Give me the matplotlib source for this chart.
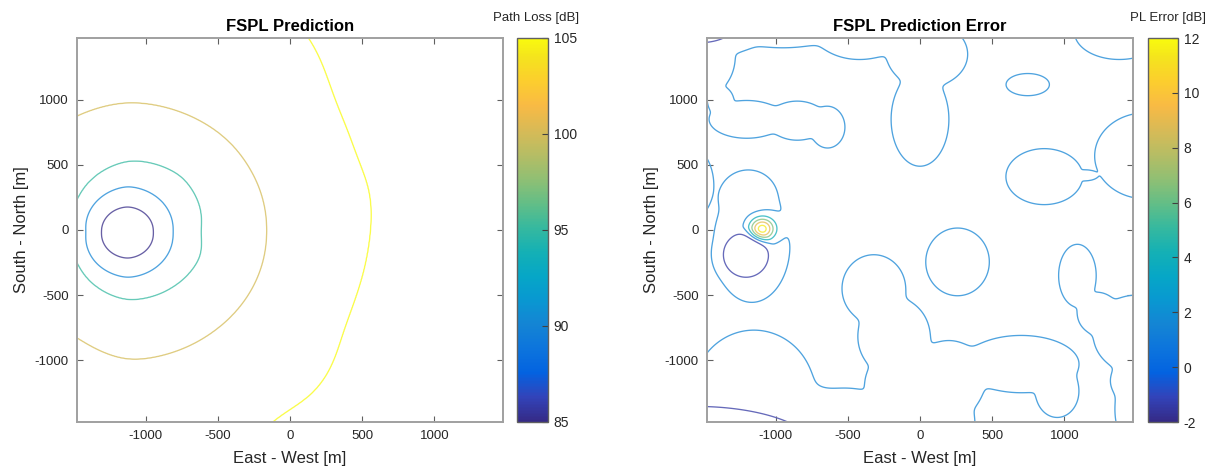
import numpy as np
import matplotlib
matplotlib.use("Agg")
import matplotlib.pyplot as plt
from matplotlib.colors import LinearSegmentedColormap, Normalize
from matplotlib.cm import ScalarMappable

plt.rcParams['font.family'] = ['Liberation Sans', 'DejaVu Sans']
plt.rcParams['axes.unicode_minus'] = False

# parula-like colormap (MATLAB default)
parula_rgb = [(0.2081, 0.1663, 0.5292), (0.1959, 0.2645, 0.7279), (0.0117, 0.3875, 0.8820),
              (0.0498, 0.4586, 0.8641), (0.0793, 0.5200, 0.8312), (0.0343, 0.5966, 0.8199),
              (0.0228, 0.6535, 0.7768), (0.0843, 0.6928, 0.7062), (0.2178, 0.7250, 0.6193),
              (0.3953, 0.7459, 0.5244), (0.5709, 0.7485, 0.4494), (0.7184, 0.7411, 0.3905),
              (0.8507, 0.7299, 0.3360), (0.9739, 0.7314, 0.2666), (0.9880, 0.8066, 0.1794),
              (0.9589, 0.8949, 0.1132), (0.9763, 0.9831, 0.0538)]
parula_pos = [0, 4, 8, 12, 16, 20, 24, 28, 32, 36, 40, 44, 48, 52, 56, 60, 63]
parula = LinearSegmentedColormap.from_list(
    "parula", [(p / 63, c) for p, c in zip(parula_pos, parula_rgb)])

# ---- FSPL prediction: contour radius (m) vs bearing (deg) around the Tx ----
tx_x, tx_y = -1125, -18
pl_levels = [85, 90, 95, 100, 105]
ang_85 = [0, 90, 180, 270]
rad_85 = [178, 195, 180, 198]
ang_90 = [0, 45, 90, 135, 180, 225, 270, 315]
rad_90 = [314, 335, 351, 318, 286, 318, 346, 330]
ang_95 = [0, 20, 49, 88, 144, 180, 214, 270, 306, 340]
rad_95 = [503, 535, 567, 549, 427, 420, 417, 517, 523, 535]
ang_100 = [0, 32, 46, 90, 113, 180, 245, 270, 310]
rad_100 = [962, 978, 990, 997, 955, 850, 870, 980, 965]
ang_105 = [-53, -46, -35, -28, -17, -3, 13, 18, 36, 50, 90, 180, 270]
rad_105 = [1725, 1803, 1747, 1665, 1651, 1670, 1717, 1672, 1747, 1962, 2300, 2600, 2100]

# ---- FSPL prediction error: low areas (x, y, half-widths of 1.5 dB line, depth) ----
err_base = 2.5
low_x = [-1200, -850, -640, -1380, -1500, -950, -420, 0, 50, -1540,
         -1700, -1165, -1190, -1205,
         -1150, -500, -1550, -320, -180, -230, 0, 200, 700, 950, 230, 260,
         1090, 1500, 1530, 1500, 1230, 860, 1560, 1150, 746, 1380]
low_y = [850, 840, 790, 990, 1330, 1600, 1560, 850, 1350, 1540,
         356, -110, 250, -190,
         -1250, -1550, -1700, -450, -820, -1180, -1350, -1150, -1030, -1240, -1500, -245,
         -350, -800, -1380, -1160, -640, 410, 570, 420, 1117, 1520]
low_rx = [260, 200, 120, 90, 220, 450, 330, 200, 280, 488,
          270, 265, 200, 235,
          420, 360, 1450, 220, 250, 150, 230, 250, 400, 150, 150, 220,
          130, 300, 180, 180, 140, 265, 350, 80, 150, 310]
low_ry = [145, 150, 160, 110, 300, 200, 250, 360, 250, 215,
          350, 445, 210, 260,
          480, 330, 597, 260, 300, 190, 230, 300, 220, 200, 250, 260,
          240, 300, 330, 170, 160, 215, 330, 40, 85, 210]
low_depth = [-2.5, -2.5, -2.5, -2.5, -2.5, -2.5, -2.5, -2.5, -2.5, -6,
             -2.5, -2.5, -2.5, -12,
             -2.5, -2.5, -8, -2.5, -2.5, -2.5, -2.5, -2.5, -2.5, -2.5, -2.5, -2.5,
             -2.5, -2.5, -2.5, -2.5, -2.5, -2.5, -2.5, -2.5, -2.5, -2.5]
peak_x, peak_y, peak_h, peak_s = -1094, 8, 12.3, 62
err_levels = [-1.5, 1.5, 4, 6.5, 9, 11.5]

lim = 1475
xs = np.linspace(-lim, lim, 500)
X, Y = np.meshgrid(xs, xs)

# path loss field, rings smoothed along the bearing
theta = np.degrees(np.arctan2(Y - tx_y, X - tx_x))
r = np.hypot(X - tx_x, Y - tx_y)
fine = np.arange(-180, 180, 1.0)
kern = np.exp(-0.5 * (np.arange(-15, 16) / 5.0) ** 2)
kern /= kern.sum()
rings = [np.zeros_like(r)]
for a, rr in [(ang_85, rad_85), (ang_90, rad_90), (ang_95, rad_95),
              (ang_100, rad_100), (ang_105, rad_105)]:
    prof = np.interp(fine, a, rr, period=360)
    prof = np.convolve(np.concatenate([prof[-15:], prof, prof[:15]]), kern, mode='valid')
    rings.append(np.interp(theta, fine, prof, period=360))
rings.append(rings[-1] + 2000)
vals = [78] + pl_levels + [110]
PL = np.full_like(r, vals[-1])
for k in range(len(rings) - 2, -1, -1):
    m = r < rings[k + 1]
    PL[m] = vals[k] + (r[m] - rings[k][m]) / (rings[k + 1][m] - rings[k][m]) * (vals[k + 1] - vals[k])

# error field
ksm = 6.0
acc = np.zeros_like(X)
for x0, y0, rx, ry, d in zip(low_x, low_y, low_rx, low_ry, low_depth):
    f = np.sqrt(2 * np.log(-d / (err_base - 1.5)))
    c = d * np.exp(-0.5 * (((X - x0) * f / rx) ** 2 + ((Y - y0) * f / ry) ** 2))
    acc += np.expm1(-ksm * c)
ERR = err_base - np.log1p(acc) / ksm
ERR += peak_h * np.exp(-0.5 * ((X - peak_x) ** 2 + (Y - peak_y) ** 2) / peak_s ** 2)

W, H = 1212, 470
fig = plt.figure(figsize=(W / 100, H / 100), dpi=100)
ax1 = fig.add_axes([77 / W, 48 / H, 426 / W, 384 / H])
cax1 = fig.add_axes([517 / W, 48 / H, 31 / W, 384 / H])
ax2 = fig.add_axes([707 / W, 48 / H, 426 / W, 384 / H])
cax2 = fig.add_axes([1148 / W, 48 / H, 30 / W, 384 / H])

txt = '#262626'
edge = '#a0a0a0'


def light(cmap, norm, levels):
    out = []
    for v in levels:
        c = np.array(cmap(norm(v))[:3])
        out.append(tuple(0.75 * c + 0.25))
    return out


for ax, field, levels, vmin, vmax, title in [
        (ax1, PL, pl_levels, 85, 105, 'FSPL Prediction'),
        (ax2, ERR, err_levels, -2, 12, 'FSPL Prediction Error')]:
    norm = Normalize(vmin, vmax)
    ax.contour(X, Y, field, levels=levels, colors=light(parula, norm, levels),
               linewidths=0.95)
    ax.set_xlim(-lim, lim)
    ax.set_ylim(-lim, lim)
    ax.set_xticks([-1000, -500, 0, 500, 1000])
    ax.set_yticks([-1000, -500, 0, 500, 1000])
    ax.tick_params(direction='in', length=4, width=0.8, color='#606060',
                   top=True, right=True, labelsize=9.5, labelcolor=txt, pad=6)
    for s in ax.spines.values():
        s.set_color(edge)
        s.set_linewidth(1.4)
    ax.set_title(title, fontsize=12, fontweight='bold', pad=5)
    ax.set_xlabel('East - West [m]', fontsize=12, color=txt, labelpad=6)
    ax.set_ylabel('South - North [m]', fontsize=12, color=txt, labelpad=4)

for cax, vmin, vmax, ticks, label, lx in [
        (cax1, 85, 105, [85, 90, 95, 100, 105], 'Path Loss [dB]', 536),
        (cax2, -2, 12, [-2, 0, 2, 4, 6, 8, 10, 12], 'PL Error [dB]', 1168)]:
    sm = ScalarMappable(norm=Normalize(vmin, vmax), cmap=parula)
    cb = fig.colorbar(sm, cax=cax, ticks=ticks)
    cb.outline.set_edgecolor('#606060')
    cb.outline.set_linewidth(1.0)
    cax.tick_params(direction='in', length=4, width=0.8, color='#404040',
                    labelsize=10, labelcolor=txt, pad=4)
    fig.text(lx / W, 1 - 18 / H, label, ha='center', va='center', fontsize=9.5, color=txt)

fig.savefig('out.png', dpi=100)
